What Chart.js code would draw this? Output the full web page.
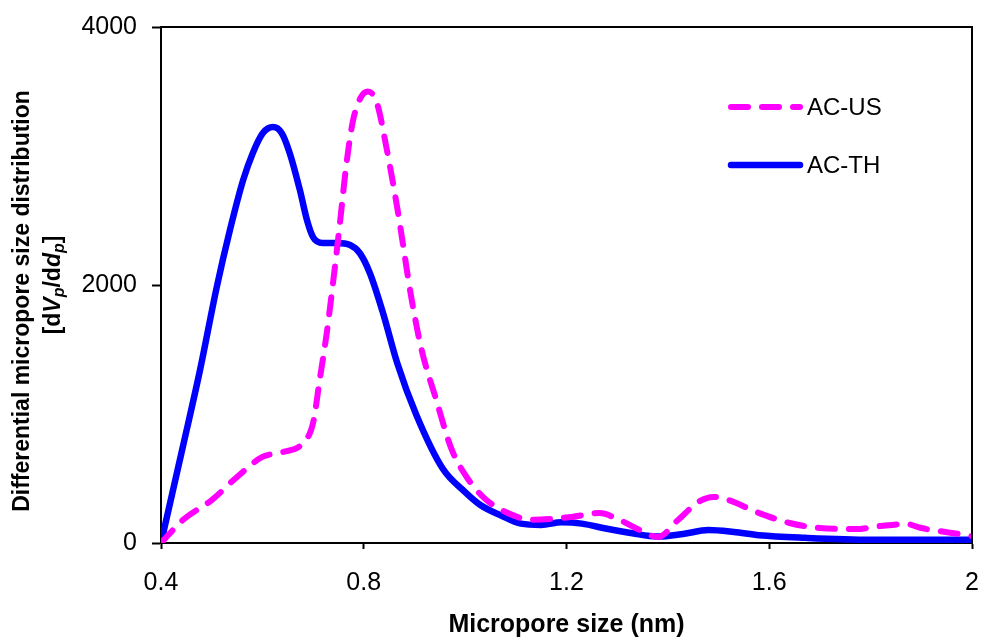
<!DOCTYPE html>
<html>
<head>
<meta charset="utf-8">
<script src="https://cdn.jsdelivr.net/npm/chart.js@4/dist/chart.umd.min.js"></script>
<style>
  html, body { margin: 0; padding: 0; background: #fff; }
  #c { display: block; }
</style>
</head>
<body>
<canvas id="c" width="984" height="641"></canvas>
<script>
// ---- data ----
const SERIES_NAMES = ['AC-US', 'AC-TH'];

const xUS = [0.40, 0.443, 0.50, 0.55, 0.60, 0.64, 0.68, 0.70, 0.713, 0.727, 0.74, 0.753, 0.766, 0.779, 0.795, 0.808, 0.826, 0.845, 0.866, 0.894, 0.914, 0.943, 0.973, 1.005, 1.04, 1.08, 1.13, 1.21, 1.265, 1.305, 1.345, 1.38, 1.42, 1.46, 1.49, 1.52, 1.575, 1.64, 1.70, 1.77, 1.82, 1.87, 1.90, 1.96, 2.00];
const yUS = [0, 178, 333, 512, 667, 705, 775, 930, 1263, 1628, 2038, 2480, 2945, 3278, 3460, 3500, 3410, 3060, 2600, 1900, 1500, 1110, 730, 500, 340, 240, 180, 202, 232, 178, 100, 46, 178, 318, 357, 333, 240, 155, 116, 108, 132, 147, 116, 78, 54];

const xTH = [0.40, 0.443, 0.477, 0.51, 0.536, 0.562, 0.581, 0.601, 0.621, 0.638, 0.654, 0.674, 0.688, 0.70, 0.719, 0.747, 0.773, 0.792, 0.812, 0.838, 0.866, 0.904, 0.956, 1.00, 1.03, 1.07, 1.11, 1.15, 1.19, 1.23, 1.28, 1.33, 1.38, 1.43, 1.48, 1.53, 1.58, 1.67, 1.80, 2.00];
const yTH = [0, 744, 1341, 1984, 2426, 2813, 3022, 3178, 3224, 3178, 3022, 2736, 2503, 2371, 2325, 2325, 2310, 2248, 2093, 1783, 1395, 990, 575, 395, 295, 215, 150, 140, 160, 150, 110, 75, 50, 70, 100, 85, 60, 40, 25, 25];

const X_TICKS = [0.4, 0.8, 1.2, 1.6, 2];
const Y_TICKS = [0, 2000, 4000];
const X_TITLE = 'Micropore size (nm)';
const Y_TITLE_1 = 'Differential micropore size distribution';

// ---- styling ----
const FONT = "'Liberation Sans', Arial, Helvetica, sans-serif";
const MAGENTA = '#FF00FF';
const BLUE = '#0000FF';

const toPts = (xs, ys) => xs.map((x, i) => ({ x: x, y: ys[i] }));

const decor = {
  id: 'decor',
  afterDraw(chart) {
    const { ctx, chartArea: a } = chart;
    ctx.save();
    // top and right frame
    ctx.strokeStyle = '#000';
    ctx.lineWidth = 2;
    ctx.beginPath();
    ctx.moveTo(a.left, a.top);
    ctx.lineTo(a.right, a.top);
    ctx.lineTo(a.right, a.bottom);
    ctx.stroke();

    // legend (inside plot, top right)
    const ds = chart.data.datasets;
    const legY = [107, 165];
    ds.forEach((d, i) => {
      ctx.save();
      ctx.strokeStyle = d.borderColor;
      ctx.lineWidth = d.borderWidth;
      ctx.lineCap = 'round';
      ctx.setLineDash(d.borderDash || []);
      ctx.beginPath();
      ctx.moveTo(731, legY[i]);
      ctx.lineTo(800, legY[i]);
      ctx.stroke();
      ctx.restore();
      ctx.fillStyle = '#000';
      ctx.font = '24px ' + FONT;
      ctx.textAlign = 'left';
      ctx.textBaseline = 'middle';
      ctx.fillText(d.label, 807, legY[i] + 1);
    });

    // x title
    ctx.fillStyle = '#000';
    ctx.font = 'bold 25px ' + FONT;
    ctx.textAlign = 'center';
    ctx.textBaseline = 'middle';
    ctx.fillText(X_TITLE, (a.left + a.right) / 2, 625);

    // y title (rotated)
    const cy = (a.top + a.bottom) / 2;
    ctx.save();
    ctx.translate(23, cy + 16);
    ctx.rotate(-Math.PI / 2);
    ctx.font = 'bold 23px ' + FONT;
    ctx.textAlign = 'center';
    ctx.textBaseline = 'middle';
    ctx.fillText(Y_TITLE_1, 0, 0);
    ctx.restore();

    // second line: [dVp/ddp] with italics and subscripts
    const segs = [
      { t: '[d', f: 'bold 23px ', dy: 0 },
      { t: 'V', f: 'italic bold 23px ', dy: 0 },
      { t: 'p', f: 'italic bold 16px ', dy: 6 },
      { t: '/d', f: 'bold 23px ', dy: 0 },
      { t: 'd', f: 'italic bold 23px ', dy: 0 },
      { t: 'p', f: 'italic bold 16px ', dy: 6 },
      { t: ']', f: 'bold 23px ', dy: 0 }
    ];
    ctx.save();
    ctx.translate(54, cy);
    ctx.rotate(-Math.PI / 2);
    ctx.textAlign = 'left';
    ctx.textBaseline = 'middle';
    let total = 0;
    segs.forEach(s => { ctx.font = s.f + FONT; s.w = ctx.measureText(s.t).width; total += s.w; });
    let x = -total / 2;
    segs.forEach(s => {
      ctx.font = s.f + FONT;
      ctx.fillText(s.t, x, s.dy);
      x += s.w;
    });
    ctx.restore();

    ctx.restore();
  }
};

new Chart(document.getElementById('c'), {
  type: 'line',
  data: {
    datasets: [
      {
        label: SERIES_NAMES[0],
        data: toPts(xUS, yUS),
        borderColor: MAGENTA,
        borderWidth: 6,
        borderDash: [17, 14],
        borderCapStyle: 'round',
        pointRadius: 0,
        fill: false,
        cubicInterpolationMode: 'monotone'
      },
      {
        label: SERIES_NAMES[1],
        data: toPts(xTH, yTH),
        borderColor: BLUE,
        borderWidth: 6.5,
        borderCapStyle: 'round',
        borderJoinStyle: 'round',
        pointRadius: 0,
        fill: false,
        cubicInterpolationMode: 'monotone'
      }
    ]
  },
  options: {
    responsive: false,
    animation: false,
    layout: { autoPadding: false, padding: { top: 27, right: 12, left: 0, bottom: 0 } },
    plugins: { legend: { display: false }, tooltip: { enabled: false } },
    scales: {
      x: {
        type: 'linear',
        min: 0.4,
        max: 2,
        afterBuildTicks: s => { s.ticks = X_TICKS.map(v => ({ value: v })); },
        afterFit: s => { s.height = 98; s.paddingLeft = 0; s.paddingRight = 0; },
        ticks: {
          color: '#000',
          font: { family: FONT, size: 25 },
          padding: 19,
          maxRotation: 0,
          autoSkip: false,
          callback: v => String(v)
        },
        grid: { drawOnChartArea: false, drawTicks: true, tickLength: 6, tickColor: '#000', tickWidth: 2 },
        border: { color: '#000', width: 2 }
      },
      y: {
        min: 0,
        max: 4000,
        afterBuildTicks: s => { s.ticks = Y_TICKS.map(v => ({ value: v })); },
        afterFit: s => { s.width = 161; s.paddingTop = 0; s.paddingBottom = 0; },
        ticks: {
          color: '#000',
          font: { family: FONT, size: 25 },
          padding: 15,
          autoSkip: false,
          callback: v => String(v)
        },
        grid: { drawOnChartArea: false, drawTicks: true, tickLength: 9, tickColor: '#000', tickWidth: 2 },
        border: { color: '#000', width: 2 }
      }
    }
  },
  plugins: [decor]
});
</script>
</body>
</html>
